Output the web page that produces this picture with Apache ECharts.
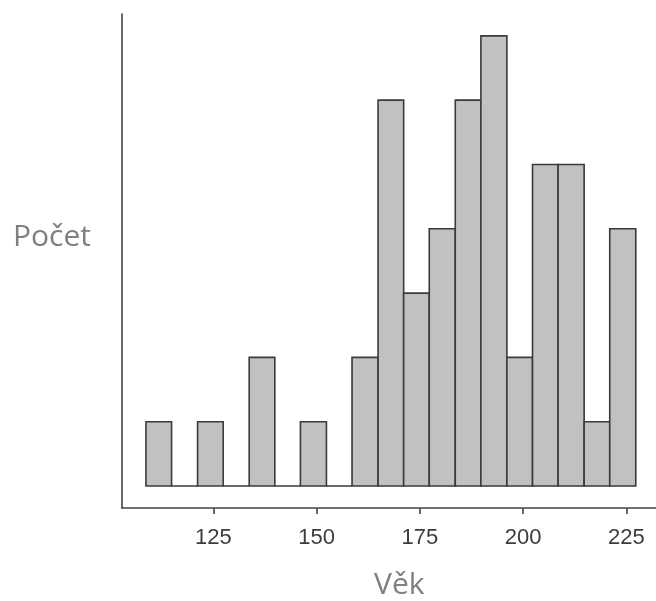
<!DOCTYPE html>
<html><head><meta charset="utf-8">
<script src="https://cdn.jsdelivr.net/npm/echarts@6/dist/echarts.min.js"></script>
<style>html,body{margin:0;padding:0;background:#fff}#c{width:656px;height:601px}</style>
</head><body><div id="c"></div>
<script>
// Histogram bin edges (Věk) and counts (Počet)
const binEdges = [108.7, 114.9, 121.2, 127.4, 133.7, 139.9, 146.1, 152.4, 158.6, 164.9, 171.1, 177.3, 183.6, 189.8, 196.1, 202.3, 208.5, 214.8, 221.0, 227.3];
const counts   = [1, 0, 1, 0, 2, 0, 1, 0, 2, 6, 3, 4, 6, 7, 2, 5, 5, 1, 4];
const tickValues = [125, 150, 175, 200, 225];
const xTitle = 'Věk';
const yTitle = 'Počet';

const data = counts.map((c, i) => [binEdges[i], binEdges[i + 1], c]);

const chart = echarts.init(document.getElementById('c'), null, {renderer: 'canvas'});
chart.setOption({
  animation: false,
  grid: {left: 122, right: 0, top: 14, bottom: 93},
  xAxis: {
    type: 'value', min: 102.9, max: 232.2,
    splitLine: {show: false},
    axisLine: {show: true, onZero: false, lineStyle: {color: '#444', width: 1.6}},
    axisTick: {show: true, customValues: tickValues, length: 6, lineStyle: {color: '#444', width: 1.6}},
    axisLabel: {show: true, customValues: tickValues, color: '#3c3c3c', fontSize: 22, fontFamily: 'Liberation Sans, Arial, sans-serif', margin: 19}
  },
  yAxis: {
    type: 'value', min: -0.342, max: 7.34,
    splitLine: {show: false},
    axisLine: {show: true, onZero: false, lineStyle: {color: '#444', width: 1.6}},
    axisTick: {show: false},
    axisLabel: {show: false}
  },
  graphic: [
    {type: 'text', left: 13, top: 222, style: {text: yTitle, fill: '#808080', font: '30px "Open Sans", "Noto Sans", sans-serif'}},
    {type: 'text', left: 374, top: 570, style: {text: xTitle, fill: '#808080', font: '30px "Open Sans", "Noto Sans", sans-serif'}}
  ],
  series: [{
    type: 'custom',
    data: data,
    renderItem: function (params, api) {
      const p0 = api.coord([api.value(0), 0]);
      const p1 = api.coord([api.value(1), api.value(2)]);
      return {
        type: 'rect',
        shape: {x: p0[0], y: p1[1], width: p1[0] - p0[0], height: p0[1] - p1[1]},
        style: {fill: '#c1c1c1', stroke: '#3a3a3a', lineWidth: 1.6}
      };
    }
  }]
});
</script></body></html>
